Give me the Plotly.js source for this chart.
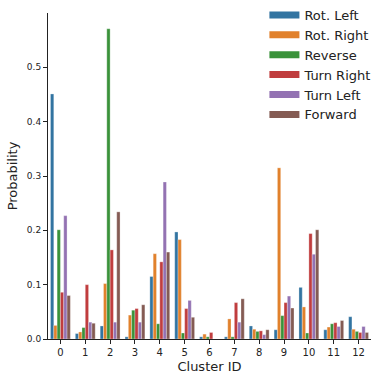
<!DOCTYPE html>
<html>
<head>
<meta charset="utf-8">
<script src="https://cdn.plot.ly/plotly-3.0.1.min.js"></script>
<style>
  html, body { margin: 0; padding: 0; background: #fff; }
  #chart { width: 382px; height: 377px; }
</style>
</head>
<body>
<div id="chart"></div>
<script>
const clusters = ['0', '1', '2', '3', '4', '5', '6', '7', '8', '9', '10', '11', '12'];
const seriesNames = ['Rot. Left', 'Rot. Right', 'Reverse', 'Turn Right', 'Turn Left', 'Forward'];

const rotLeft   = [0.451, 0.010, 0.024, 0.004, 0.115, 0.197, 0.004, 0.004, 0.024, 0.017, 0.095, 0.017, 0.041];
const rotRight  = [0.025, 0.013, 0.102, 0.044, 0.157, 0.183, 0.009, 0.037, 0.018, 0.315, 0.059, 0.022, 0.018];
const reverse   = [0.201, 0.021, 0.571, 0.053, 0.028, 0.011, 0.004, 0.004, 0.014, 0.043, 0.011, 0.028, 0.014];
const turnRight = [0.086, 0.100, 0.164, 0.056, 0.142, 0.056, 0.012, 0.067, 0.015, 0.067, 0.194, 0.030, 0.012];
const turnLeft  = [0.227, 0.031, 0.031, 0.031, 0.289, 0.071, 0, 0.031, 0.008, 0.079, 0.156, 0.023, 0.023];
const forward   = [0.080, 0.029, 0.234, 0.063, 0.160, 0.040, 0, 0.074, 0.017, 0.057, 0.201, 0.034, 0.012];

const yTicks = [0, 0.1, 0.2, 0.3, 0.4, 0.5];
const colors = ['#3274a1', '#e1812c', '#3a923a', '#c03d3e', '#9372b2', '#845b53'];

const allSeries = [rotLeft, rotRight, reverse, turnRight, turnLeft, forward];
const font = 'DejaVu Sans, sans-serif';

const traces = allSeries.map((vals, i) => ({
  type: 'bar',
  name: seriesNames[i],
  x: clusters,
  y: vals,
  marker: { color: colors[i], line: { color: 'rgba(255,255,255,0.6)', width: 0.5 } },
  showlegend: false,
  legendgroup: seriesNames[i],
  hoverinfo: 'x+y+name'
}));

// legend swatches as wide rectangles
const legendTraces = seriesNames.map((name, i) => ({
  type: 'scatter',
  mode: 'lines',
  name: name,
  x: [null],
  y: [null],
  line: { color: colors[i], width: 7 },
  legendgroup: name,
  showlegend: true
}));

const layout = {
  width: 382,
  height: 377,
  paper_bgcolor: '#ffffff',
  plot_bgcolor: '#ffffff',
  margin: { l: 48, r: 11, t: 13, b: 38, autoexpand: false },
  font: { family: font, color: '#222', size: 10 },
  barmode: 'group',
  bargap: 0.2,
  bargroupgap: 0,
  showlegend: true,
  legend: {
    x: 0.67, y: 1.04, xanchor: 'left', yanchor: 'top',
    bgcolor: 'rgba(255,255,255,0)',
    font: { family: font, size: 13, color: '#222' },
    itemwidth: 30,
    tracegroupgap: 0
  },
  xaxis: {
    type: 'category',
    range: [-0.5, 12.5],
    showline: true, linecolor: '#222', linewidth: 1,
    ticks: 'outside', ticklen: 4, tickcolor: '#222',
    showgrid: false, zeroline: false,
    tickfont: { family: font, size: 10, color: '#222' },
    title: { text: 'Cluster ID', font: { family: font, size: 13, color: '#222' }, standoff: 4 }
  },
  yaxis: {
    range: [0, 0.6],
    tickvals: yTicks,
    tickformat: '.1f',
    showline: true, linecolor: '#222', linewidth: 1,
    ticks: 'outside', ticklen: 4, tickcolor: '#222',
    showgrid: false, zeroline: false,
    tickfont: { family: font, size: 9, color: '#222' },
    title: { text: 'Probability', font: { family: font, size: 13, color: '#222' }, standoff: 6 }
  }
};

Plotly.newPlot('chart', traces.concat(legendTraces), layout, { displayModeBar: false, staticPlot: true });
</script>
</body>
</html>
